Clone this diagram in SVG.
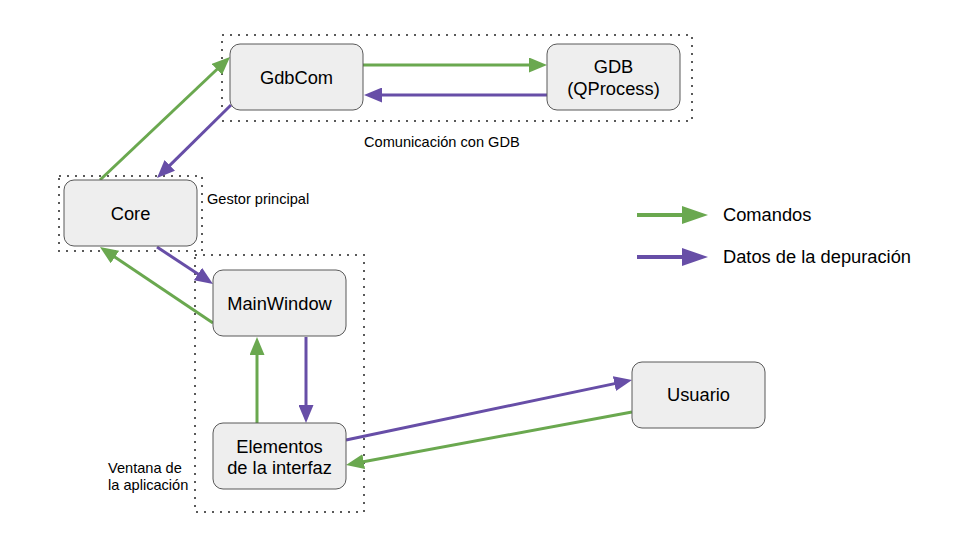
<svg xmlns="http://www.w3.org/2000/svg" width="960" height="540" viewBox="0 0 960 540">
  <defs>
    <marker id="ah-g" markerUnits="userSpaceOnUse" markerWidth="18" markerHeight="15" refX="10" refY="7.5" orient="auto">
      <path d="M0,0 L18,7.5 L0,15 z" fill="#6aa84f"/>
    </marker>
    <marker id="ah-p" markerUnits="userSpaceOnUse" markerWidth="18" markerHeight="15" refX="10" refY="7.5" orient="auto">
      <path d="M0,0 L18,7.5 L0,15 z" fill="#674ea7"/>
    </marker>
    <marker id="lg-g" markerUnits="userSpaceOnUse" markerWidth="26" markerHeight="18" refX="16" refY="9" orient="auto">
      <path d="M0,0 L26,9 L0,18 z" fill="#6aa84f"/>
    </marker>
    <marker id="lg-p" markerUnits="userSpaceOnUse" markerWidth="26" markerHeight="18" refX="16" refY="9" orient="auto">
      <path d="M0,0 L26,9 L0,18 z" fill="#674ea7"/>
    </marker>
  </defs>
  <style>
    .node { fill: #eeeeee; stroke: #595959; stroke-width: 1; }
    .group { fill: none; stroke: #595959; stroke-width: 2; stroke-dasharray: 2 6; }
    .lbl { font-family: "Liberation Sans", Arial, sans-serif; font-size: 18.3px; fill: #000000; text-anchor: middle; }
    .cap { font-family: "Liberation Sans", Arial, sans-serif; font-size: 14.6px; fill: #000000; }
    .leg { font-family: "Liberation Sans", Arial, sans-serif; font-size: 18.3px; fill: #000000; }
    .g { stroke: #6aa84f; stroke-width: 3; fill: none; marker-end: url(#ah-g); }
    .p { stroke: #674ea7; stroke-width: 3; fill: none; marker-end: url(#ah-p); }
  </style>
  <rect width="960" height="540" fill="#ffffff"/>

  <g id="groups">
    <rect class="group" x="222" y="35" width="470" height="86"/>
    <rect class="group" x="59" y="176" width="143" height="75"/>
    <rect class="group" x="195" y="255" width="169" height="257"/>
    <text class="cap" x="364" y="147">Comunicación con GDB</text>
    <text class="cap" x="207" y="204">Gestor principal</text>
    <text class="cap" x="108" y="473">Ventana de</text>
    <text class="cap" x="108" y="490">la aplicación</text>
  </g>

  <g id="connectors">
    <line class="g" x1="100" y1="180" x2="224.2" y2="62.5"/>
    <line class="p" x1="231" y1="105" x2="162.7" y2="172.4"/>
    <line class="g" x1="363" y1="65" x2="539" y2="65"/>
    <line class="p" x1="547" y1="95" x2="372" y2="95"/>
    <line class="p" x1="157" y1="247" x2="206.3" y2="279.6"/>
    <line class="g" x1="213" y1="323" x2="106.6" y2="251.5"/>
    <line class="g" x1="257" y1="423" x2="257" y2="345"/>
    <line class="p" x1="306" y1="337" x2="306" y2="415"/>
    <line class="p" x1="346" y1="440" x2="624.2" y2="381.6"/>
    <line class="g" x1="632" y1="412" x2="353.9" y2="463.5"/>
  </g>

  <g id="node-gdbcom">
    <rect class="node" x="230" y="44" width="133" height="66" rx="10"/>
    <text class="lbl" x="296.5" y="84">GdbCom</text>
  </g>
  <g id="node-gdb">
    <rect class="node" x="547" y="44" width="133" height="66" rx="10"/>
    <text class="lbl" x="613.5" y="73">GDB</text>
    <text class="lbl" x="613.5" y="95">(QProcess)</text>
  </g>
  <g id="node-core">
    <rect class="node" x="64" y="180" width="133" height="66" rx="10"/>
    <text class="lbl" x="130.5" y="220">Core</text>
  </g>
  <g id="node-mainwindow">
    <rect class="node" x="213" y="270" width="133" height="66" rx="10"/>
    <text class="lbl" x="279.5" y="309.5">MainWindow</text>
  </g>
  <g id="node-elementos">
    <rect class="node" x="213" y="423" width="133" height="66" rx="10"/>
    <text class="lbl" x="279.5" y="452.5">Elementos</text>
    <text class="lbl" x="279.5" y="474">de la interfaz</text>
  </g>
  <g id="node-usuario">
    <rect class="node" x="632" y="362" width="133" height="66" rx="10"/>
    <text class="lbl" x="698.5" y="401">Usuario</text>
  </g>

  <g id="legend">
    <line x1="637" y1="215" x2="698" y2="215" stroke="#6aa84f" stroke-width="4" marker-end="url(#lg-g)"/>
    <text class="leg" x="723" y="221">Comandos</text>
    <line x1="637" y1="257" x2="698" y2="257" stroke="#674ea7" stroke-width="4" marker-end="url(#lg-p)"/>
    <text class="leg" x="723" y="263">Datos de la depuración</text>
  </g>
</svg>
